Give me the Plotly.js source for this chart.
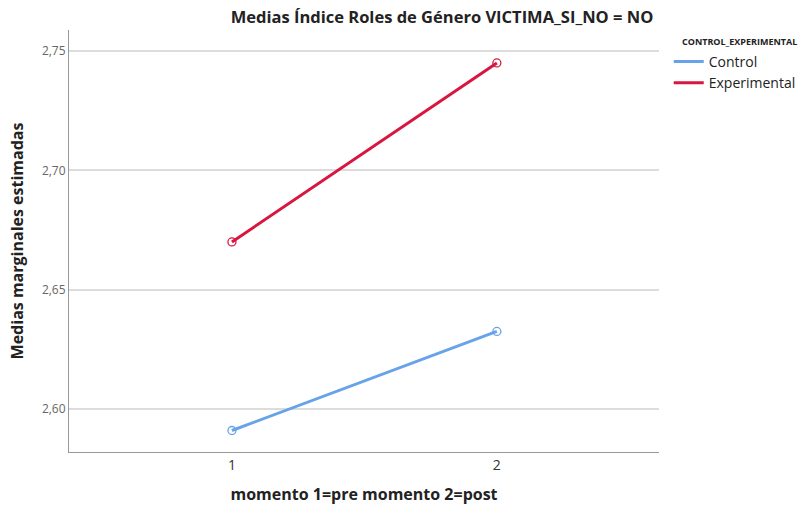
<!DOCTYPE html>
<html><head><meta charset="utf-8">
<script src="https://cdn.plot.ly/plotly-3.0.1.min.js"></script>
<style>body{margin:0;background:#fff}#chart{width:807px;height:513px}</style>
</head><body><div id="chart"></div>
<script>
var momentos = [1, 2];
var seriesNames = ["Control", "Experimental"];
var controlValues = [2.591, 2.6325];
var experimentalValues = [2.670, 2.745];
var yTicks = [2.60, 2.65, 2.70, 2.75];
var xTicks = [1, 2];

var colors = ["#68a3ea", "#d8163f"];
var valuesList = [controlValues, experimentalValues];
var traces = [];
seriesNames.forEach(function(n, i){
  traces.push({
    x: momentos, y: valuesList[i], name: n, type: "scatter", mode: "lines",
    line: {color: colors[i], width: 3}, legendgroup: n
  });
});
seriesNames.forEach(function(n, i){
  traces.push({
    x: momentos, y: valuesList[i], name: n, type: "scatter", mode: "markers",
    showlegend: false, legendgroup: n,
    marker: {symbol: "circle-open", size: 8, color: colors[i], line: {width: 1.3}}
  });
});
var layout = {
  width: 807, height: 513,
  margin: {l: 69, r: 148, t: 30, b: 61, autoexpand: false},
  separators: ",.",
  paper_bgcolor: "#fff", plot_bgcolor: "#fff",
  font: {family: "Open Sans, Liberation Sans, sans-serif", color: "#222"},
  title: {text: "<b>Medias Índice Roles de Género VICTIMA_SI_NO = NO</b>", x: 442/807, xanchor: "center", xref: "container",
          y: 1 - 17/513, yanchor: "middle", yref: "container",
          font: {size: 16.5, color: "#222", family: "Open Sans, sans-serif"}},
  xaxis: {range: [0.385, 2.612], tickvals: xTicks, ticktext: xTicks.map(String),
          showgrid: false, zeroline: false, showline: true, linecolor: "#999", linewidth: 1,
          ticks: "", tickfont: {size: 14, color: "#333"},
          title: {text: "<b>momento 1=pre momento 2=post</b>", font: {size: 16, color: "#222"}, standoff: 16}},
  yaxis: {range: [2.582, 2.7588], tickvals: yTicks, tickformat: ".2f",
          showgrid: true, gridcolor: "#dcdcdc", gridwidth: 1.5, zeroline: false,
          showline: true, linecolor: "#999", linewidth: 1, ticks: "",
          tickfont: {size: 12, color: "#666"},
          title: {text: "<b>Medias marginales estimadas</b>", font: {size: 16, color: "#222"}, standoff: 14}},
  legend: {x: 1.0165, xanchor: "left", y: 1 - 16/422, yanchor: "top", tracegroupgap: 0,
           font: {size: 14, color: "#222"}, itemwidth: 30},
  annotations: [{text: "<b>CONTROL_EXPERIMENTAL</b>", xref: "paper", yref: "paper",
                 x: (680 - 69)/590, xanchor: "left", y: 1 - 12/422, yanchor: "middle",
                 showarrow: false, font: {size: 9, color: "#222"}}]
};
Plotly.newPlot("chart", traces, layout, {displayModeBar: false});
</script></body></html>
